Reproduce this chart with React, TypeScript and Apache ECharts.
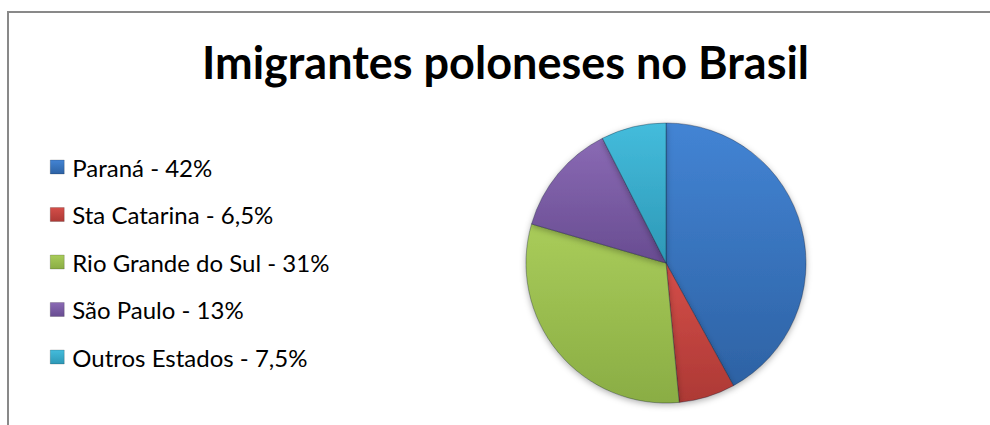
import React, { useEffect, useRef } from "react";
import * as echarts from "echarts";

const titleText = "Imigrantes poloneses no Brasil";
const categories = [
  "Paraná - 42%",
  "Sta Catarina - 6,5%",
  "Rio Grande do Sul - 31%",
  "São Paulo - 13%",
  "Outros Estados - 7,5%",
];
const values = [42, 6.5, 31, 13, 7.5];
const topColors = ["#4384d4", "#d44e49", "#a9cc5a", "#8a6ab4", "#44bcdc"];
const bottomColors = ["#2d62a4", "#ad3935", "#8aad44", "#684c91", "#2d98b6"];

function grad(top: string, bottom: string) {
  return new echarts.graphic.LinearGradient(0, 0, 0, 1, [
    { offset: 0, color: top },
    { offset: 1, color: bottom },
  ]);
}

export default function App() {
  const ref = useRef<HTMLDivElement>(null);
  useEffect(() => {
    if (!ref.current) return;
    const chart = echarts.init(ref.current, undefined, { renderer: "svg" });
    chart.setOption({
      animation: false,
      backgroundColor: "#ffffff",
      graphic: [
        {
          type: "rect",
          shape: { x: 8, y: 12, width: 1100, height: 600 },
          style: { fill: "none", stroke: "#898989", lineWidth: 2 },
          silent: true,
          z: -1,
        },
        {
          type: "text",
          x: 505.5,
          y: 62,
          silent: true,
          style: {
            text: titleText,
            align: "center",
            verticalAlign: "middle",
            fontFamily: "Lato",
            fontWeight: "bold",
            fontSize: 45,
            fill: "#000000",
          },
        },
      ],
      legend: {
        orient: "vertical",
        left: 45,
        top: 150,
        itemWidth: 14,
        itemHeight: 14,
        itemGap: 23.5,
        icon: "rect",
        textStyle: {
          fontFamily: "Lato",
          fontSize: 24,
          lineHeight: 24,
          color: "#000000",
          padding: [0, 0, 0, 3],
        },
        data: categories.map((c, i) => ({
          name: c,
          itemStyle: {
            color: grad(topColors[i], bottomColors[i]),
            borderColor: "rgba(0,0,0,0.35)",
            borderWidth: 0.5,
          },
        })),
      },
      series: [
        {
          type: "pie",
          center: [666, 263],
          radius: 140,
          startAngle: 90,
          clockwise: true,
          label: { show: false },
          labelLine: { show: false },
          emphasis: { disabled: true },
          itemStyle: {
            borderColor: "rgba(20,30,50,0.45)",
            borderWidth: 0.8,
            shadowBlur: 6,
            shadowOffsetY: 2,
            shadowColor: "rgba(0,0,0,0.3)",
          },
          data: categories.map((c, i) => ({
            name: c,
            value: values[i],
            itemStyle: { color: grad(topColors[i], bottomColors[i]) },
          })),
        },
      ],
    });
    return () => chart.dispose();
  }, []);
  return (
    <div
      ref={ref}
      style={{ position: "fixed", left: 0, top: 0, width: 990, height: 425 }}
    />
  );
}
